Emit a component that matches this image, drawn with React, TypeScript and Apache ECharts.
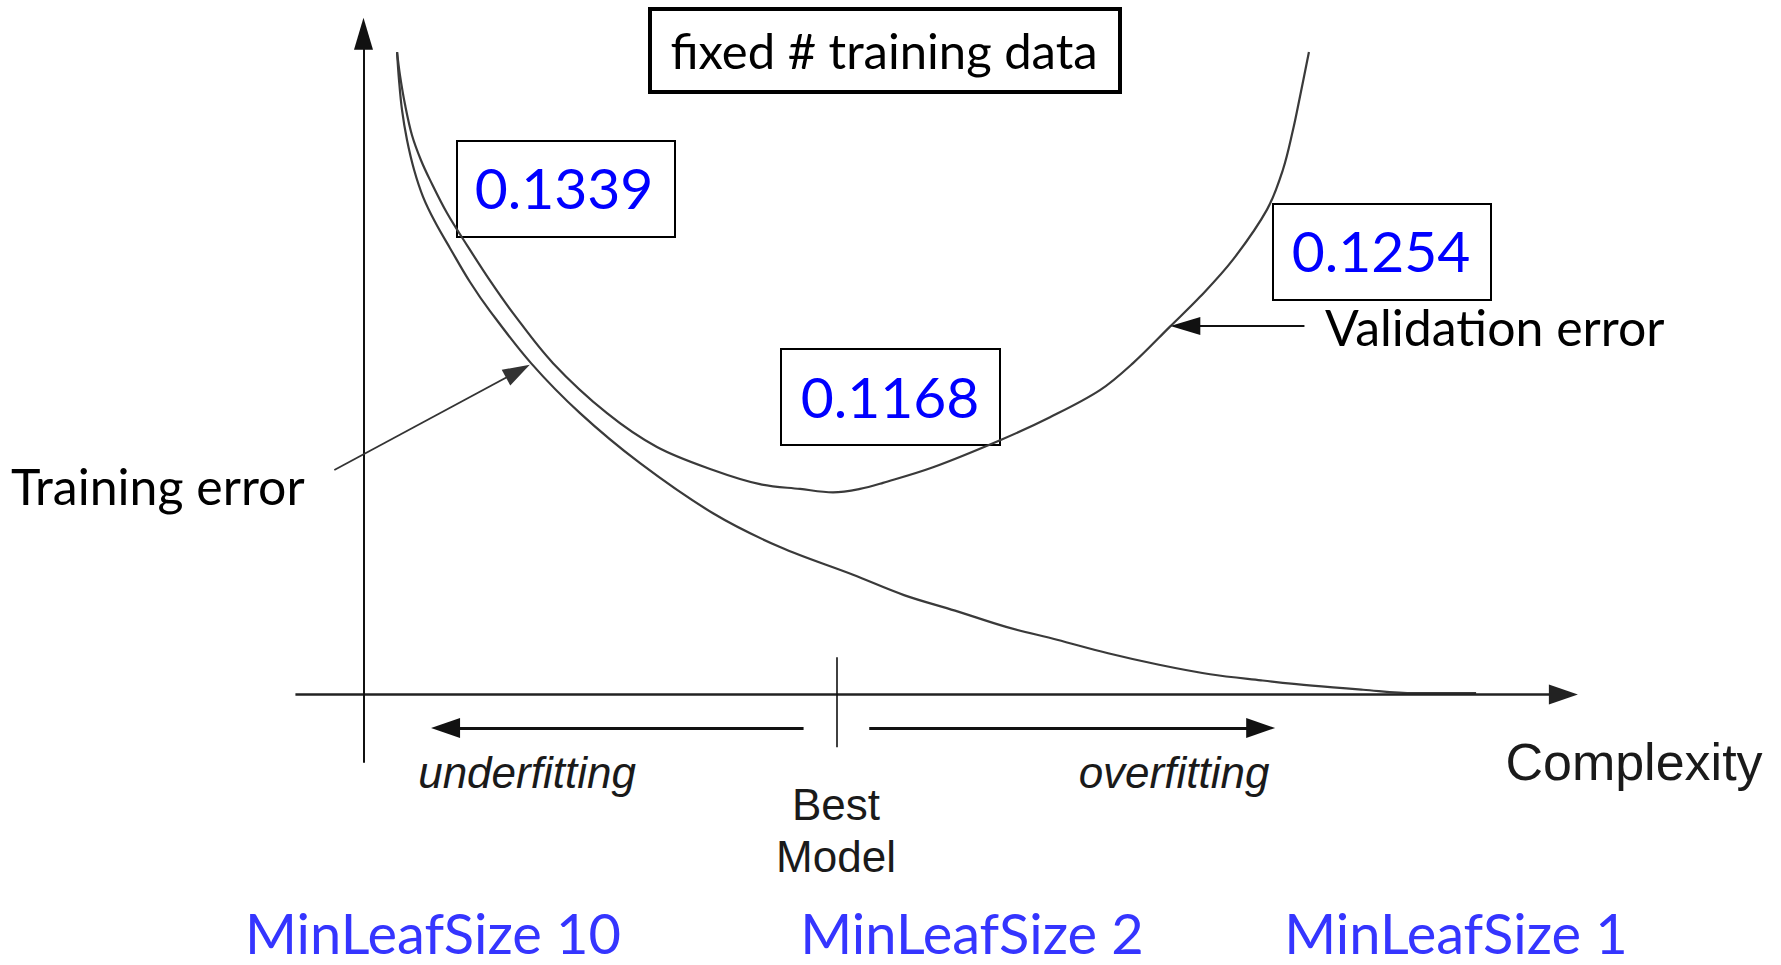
import React, { useEffect, useRef } from 'react';
import * as echarts from 'echarts';

// ---- data (complexity on x, error on y; arbitrary conceptual units) ----
const trainingComplexity = [2.66, 2.82, 3.07, 3.48, 4.06, 4.8, 5.78, 7.02, 8.66, 10.31, 13.68, 17.71, 22.65, 28.65, 34.16, 40.17, 44.36, 48.56, 52.76, 56.95, 61.15, 65.34, 69.54, 73.73, 77.93, 82.12, 86.32, 91.42];
const trainingError = [95.0, 90.9, 86.4, 82.0, 77.6, 73.6, 69.9, 66.0, 61.0, 56.7, 49.0, 41.6, 34.2, 26.8, 21.8, 17.7, 14.7, 12.4, 10.0, 8.1, 6.1, 4.4, 3.0, 2.1, 1.3, 0.7, 0.2, 0.2];
const validationComplexity = [2.66, 2.9, 3.32, 3.89, 4.63, 5.37, 6.77, 8.5, 10.31, 12.2, 15.49, 19.93, 24.04, 28.65, 32.51, 35.81, 38.52, 40.74, 42.63, 46.75, 52.26, 56.37, 60.48, 63.2, 66.24, 68.71, 71.42, 74.22, 75.53, 76.36, 76.93, 77.67];
const validationError = [95.0, 91.6, 87.2, 82.7, 79.0, 76.1, 71.2, 66.2, 61.2, 56.4, 49.0, 41.6, 36.6, 33.2, 31.1, 30.4, 29.9, 30.4, 31.3, 33.6, 37.6, 41.0, 45.0, 49.0, 54.4, 58.8, 64.3, 71.7, 77.6, 83.5, 88.4, 95.0];
const bestModelComplexity = 38.85;
const boxValues = ['0.1339', '0.1168', '0.1254'];
const minLeafLabels = ['MinLeafSize 10', 'MinLeafSize 2', 'MinLeafSize 1'];
const titleText = 'fixed # training data';
const curveNames = ['Training error', 'Validation error'];
const regionLabels = ['underfitting', 'overfitting'];
const bestModelLabel = ['Best', 'Model'];
const xAxisName = 'Complexity';

// ---- layout ----
const W = 1781;
const H = 965;
const CAL = 'Lato, "Open Sans", sans-serif';
const ARI = '"Liberation Sans", Arial, sans-serif';
const INK = '#1a1a1a';
const CURVE = '#3a3a3a';

const pairs = (xs: number[], ys: number[]) => xs.map((x, i) => [x, ys[i]]);

const arrowSeries = (from: number[], to: number[], width: number, head: number[] | null, color = INK) => ({
  type: 'line',
  data: [],
  silent: true,
  clip: false,
  markLine: {
    silent: true,
    animation: false,
    symbol: head ? ['none', 'triangle'] : ['none', 'none'],
    symbolSize: head || 0,
    label: { show: false },
    emphasis: { disabled: true },
    itemStyle: { color },
    lineStyle: { color, width, type: 'solid' },
    data: [[{ coord: from }, { coord: to }]],
  },
});

const valueBoxes = [
  { x: 457, y: 141, w: 218, h: 96 },
  { x: 781, y: 349, w: 219, h: 96 },
  { x: 1273, y: 204, w: 218, h: 96 },
];
const valueCenters = [
  [564, 187],
  [890, 396],
  [1381, 250],
];
const minLeafCenters = [433, 972, 1456];

const txt = (text: string, x: number, y: number, font: string, fill: string, align = 'center', lineHeight?: number) => ({
  type: 'text',
  x,
  y,
  silent: true,
  style: { text, fill, font, align, verticalAlign: 'middle', ...(lineHeight ? { lineHeight } : {}) },
});

const option: any = {
  animation: false,
  backgroundColor: '#ffffff',
  grid: { left: 0, top: 0, right: 0, bottom: 0, containLabel: false },
  xAxis: { type: 'value', min: -30, max: 116.5, show: false },
  yAxis: { type: 'value', min: -40, max: 102.7, show: false },
  tooltip: { show: false },
  series: [
    {
      name: curveNames[0],
      type: 'line',
      data: pairs(trainingComplexity, trainingError),
      showSymbol: false,
      smooth: 0.35,
      silent: true,
      lineStyle: { color: CURVE, width: 2.2 },
    },
    {
      name: curveNames[1],
      type: 'line',
      data: pairs(validationComplexity, validationError),
      showSymbol: false,
      smooth: 0.35,
      silent: true,
      lineStyle: { color: CURVE, width: 2.2 },
    },
    // axes
    arrowSeries([-5.7, 0], [98.6, 0], 2.6, [20, 29], '#222'),
    arrowSeries([-0.1, -10.1], [-0.1, 97.7], 2, [19, 32], '#111'),
    // best model tick
    arrowSeries([bestModelComplexity, 5.5], [bestModelComplexity, -7.8], 1.6, null, '#111'),
    // underfitting / overfitting arrows
    arrowSeries([36.1, -4.95], [6.65, -4.95], 3, [20, 29], '#111'),
    arrowSeries([41.5, -4.95], [73.7, -4.95], 3, [20, 29], '#111'),
    // pointer arrows to curves
    arrowSeries([-2.5, 33.2], [12.6, 47.8], 1.8, [18, 27], '#333'),
    arrowSeries([77.3, 54.5], [67.5, 54.5], 2, [18, 30], '#111'),
  ],
  graphic: [
    {
      type: 'rect',
      silent: true,
      shape: { x: 650, y: 9, width: 470, height: 83 },
      style: { fill: '#fff', stroke: '#000', lineWidth: 4 },
    },
    txt(titleText, 884, 50, `49px ${CAL}`, '#000'),
    ...valueBoxes.map((b) => ({
      type: 'rect',
      silent: true,
      shape: { x: b.x, y: b.y, width: b.w, height: b.h },
      style: { fill: 'none', stroke: '#000', lineWidth: 2 },
    })),
    ...boxValues.map((v, i) => txt(v, valueCenters[i][0], valueCenters[i][1], `57px ${CAL}`, '#0000ff')),
    txt(curveNames[0], 11, 486, `50px ${CAL}`, '#000', 'left'),
    txt(curveNames[1], 1325, 327, `50px ${CAL}`, '#000', 'left'),
    txt(regionLabels[0], 527, 772, `italic 44px ${ARI}`, INK),
    txt(regionLabels[1], 1174, 772, `italic 44px ${ARI}`, INK),
    txt(xAxisName, 1634, 762, `52px ${ARI}`, INK),
    txt(bestModelLabel[0], 836, 804, `44px ${ARI}`, INK),
    txt(bestModelLabel[1], 836, 856, `44px ${ARI}`, INK),
    ...minLeafLabels.map((t, i) => txt(t, minLeafCenters[i], 932, `56px ${CAL}`, '#3535ff', 'center', 56)),
  ],
};

export default function App() {
  const ref = useRef<HTMLDivElement>(null);
  useEffect(() => {
    document.body.style.margin = '0';
    if (!ref.current) return;
    const chart = echarts.init(ref.current, null, { renderer: 'svg', width: W, height: H });
    chart.setOption(option);
    return () => {
      chart.dispose();
    };
  }, []);
  return <div ref={ref} style={{ width: W, height: H, background: '#ffffff' }} />;
}
